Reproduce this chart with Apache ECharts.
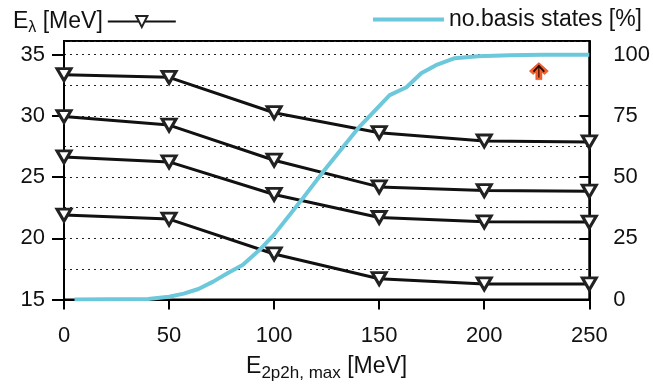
<!DOCTYPE html>
<html><head><meta charset="utf-8">
<script src="https://cdn.jsdelivr.net/npm/echarts@6/dist/echarts.min.js"></script>
<style>html,body{margin:0;padding:0;background:#fff}#c{width:653px;height:391px}</style>
</head><body><div id="c"></div>
<script>
// ---- data ----
const energies = [0, 50, 100, 150, 200, 250];
const level1 = [33.37, 33.15, 30.26, 28.63, 27.95, 27.87];
const level2 = [29.95, 29.25, 26.38, 24.20, 23.90, 23.85];
const level3 = [26.65, 26.24, 23.58, 21.70, 21.35, 21.33];
const level4 = [21.90, 21.57, 18.72, 16.70, 16.27, 16.27];
const basisE   = [5, 40, 50, 57, 64, 71, 78, 85, 93, 100, 113, 124, 140, 150, 155, 163, 170, 177, 186, 197, 212, 228, 250];
const basisPct = [0, 0.2, 1.1, 2.4, 4.3, 7.3, 10.8, 14.1, 20.2, 26.5, 40.6, 52.9, 70, 79, 83.5, 86.7, 92.4, 95.7, 98.6, 99.4, 99.8, 100, 100];
const arrowPoint = [226, 93.3];
const xTicks = [0, 50, 100, 150, 200, 250];
const leftTicks = [15, 20, 25, 30, 35];
const rightTicks = [0, 25, 50, 75, 100];

// ---- chart ----
const FONT = 'Liberation Sans';
const FS = 22;
const FL = 23;
const txt = '#111';
const levels = [level1, level2, level3, level4];
const tri = 'path://M0,0L10,0L5,8.66Z';

const blackSeries = levels.map(lv => ({
  name: 'E',
  type: 'line',
  xAxisIndex: 0, yAxisIndex: 0,
  data: energies.map((e, i) => [e, lv[i]]),
  symbol: tri,
  symbolSize: [14, 12],
  showSymbol: true,
  lineStyle: { color: '#111', width: 3 },
  itemStyle: { color: '#fff', borderColor: '#222', borderWidth: 3 },
  z: 3
}));

const option = {
  animation: false,
  grid: { left: 64, right: 60, top: 41, bottom: 91.5, show: true, borderColor: '#000', borderWidth: 2, containLabel: false },
  legend: [
    {
      data: ['E'], left: 8, top: 2, align: 'right', itemWidth: 68, itemHeight: 14, itemGap: 10,
      formatter: () => '{e|E}{s|λ}{e| [MeV]}',
      textStyle: { fontFamily: FONT, fontSize: FL, color: txt, padding: [0, 0, 0, 12],
        rich: { e: { fontFamily: FONT, fontSize: FL, color: txt, lineHeight: 26 },
                s: { fontFamily: FONT, fontSize: 16, color: txt, lineHeight: 16, padding: [13, 0, 0, 0] } } }
    },
    {
      data: [{ name: 'nb', icon: 'rect' }], right: 6, top: 3, align: 'left', itemWidth: 71, itemHeight: 4, itemGap: 14,
      formatter: () => 'no.basis states [%]',
      textStyle: { fontFamily: FONT, fontSize: FL, color: txt }
    }
  ],
  xAxis: {
    type: 'value', min: 0, max: 250, interval: 50,
    axisLine: { show: true, lineStyle: { color: '#000', width: 2 } },
    axisTick: { show: true, inside: false, length: 10, lineStyle: { color: '#000', width: 2 }, customValues: xTicks },
    axisLabel: { fontFamily: FONT, fontSize: FS, color: txt, margin: 25, customValues: xTicks },
    splitLine: { show: false },
    name: '{e|E}{s|2p2h, max}{e| [MeV]}',
    nameLocation: 'middle', nameGap: 54,
    nameTextStyle: { fontFamily: FONT, fontSize: FL, color: txt,
      rich: { e: { fontFamily: FONT, fontSize: FL, color: txt, lineHeight: 26 },
              s: { fontFamily: FONT, fontSize: 17, color: txt, lineHeight: 17, padding: [13, 0, 0, 0] } } }
  },
  yAxis: [
    {
      type: 'value', position: 'left', min: 15, max: 36.12, interval: 5,
      axisLine: { show: true, lineStyle: { color: '#000', width: 2 } },
      axisTick: { show: true, inside: false, length: 12, lineStyle: { color: '#000', width: 2 }, customValues: leftTicks },
      axisLabel: { fontFamily: FONT, fontSize: FS, color: txt, margin: 19, customValues: leftTicks },
      splitLine: { show: false }
    },
    {
      type: 'value', position: 'right', min: 0, max: 105.6, interval: 25,
      axisLine: { show: true, lineStyle: { color: '#000', width: 2 } },
      axisTick: { show: true, inside: true, length: 10, lineStyle: { color: '#000', width: 2 }, customValues: rightTicks },
      axisLabel: { fontFamily: FONT, fontSize: FS, color: txt, margin: 24, customValues: rightTicks },
      splitLine: { show: false }
    },
    {
      type: 'value', position: 'left', min: 15, max: 36.12, interval: 2.5,
      axisLine: { show: false }, axisTick: { show: false }, axisLabel: { show: false },
      splitLine: { show: true, lineStyle: { color: '#222', width: 1, type: [2, 4] } }
    }
  ],
  series: [
    ...blackSeries,
    {
      name: 'nb', type: 'line', xAxisIndex: 0, yAxisIndex: 1,
      data: basisE.map((e, i) => [e, basisPct[i]]),
      symbol: 'none', smooth: false,
      lineStyle: { color: '#6cc8da', width: 4 },
      itemStyle: { color: '#6cc8da' },
      z: 4
    },
    {
      name: 'arrowOuter', type: 'scatter', xAxisIndex: 0, yAxisIndex: 1,
      data: [arrowPoint],
      symbol: 'path://M5,0L10,5L8,7L6.6,5.6L6.6,10L3.4,10L3.4,5.6L2,7L0,5Z',
      symbolSize: [19, 17],
      itemStyle: { color: '#f4602a', borderColor: '#c23a10', borderWidth: 0.5, opacity: 1 },
      z: 5
    },
    {
      name: 'arrowInner', type: 'scatter', xAxisIndex: 0, yAxisIndex: 1,
      data: [arrowPoint],
      symbol: 'path://M5,0L10,5L9,6L5.5,2.5L5.5,10L4.5,10L4.5,2.5L1,6L0,5Z',
      symbolSize: [12, 13],
      itemStyle: { color: '#2a0a00', opacity: 1 },
      z: 6
    }
  ]
};

const chart = echarts.init(document.getElementById('c'), null, { renderer: 'canvas' });
chart.setOption(option);
</script>
</body></html>
